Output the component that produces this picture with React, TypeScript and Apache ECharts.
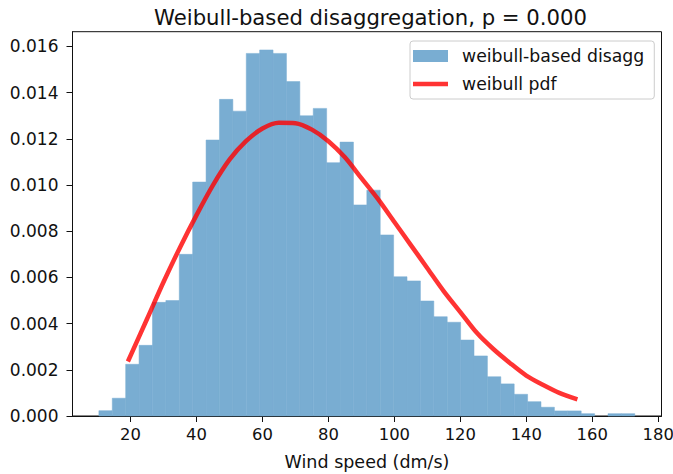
import React, { useEffect, useRef } from "react";
import * as echarts from "echarts";

// Histogram: 40 equal-width bins
const binStart = 10.4;
const binWidth = 4.0625;
const binHeights = [
  0.00023, 0.00077, 0.00224, 0.00306, 0.00492, 0.005, 0.007, 0.01013, 0.01195, 0.01371,
  0.0132, 0.0157, 0.01585, 0.0157, 0.01448, 0.013, 0.01332, 0.01097, 0.01186, 0.00914,
  0.00978, 0.00784, 0.00603, 0.00585, 0.00498, 0.0043, 0.00406, 0.00329, 0.0026, 0.0017,
  0.00139, 0.00094, 0.00062, 0.00038, 0.00022, 0.00022, 0.0001, 0, 0.0001, 0.0001,
];

// Weibull pdf curve
const pdfX = [19.2, 25, 30, 35, 40, 45, 50, 55, 60, 65, 70, 75, 80, 85, 90, 95, 100, 105, 110, 115, 120, 125, 130, 135, 140, 145, 150, 155.5];
const pdfY = [
  0.00236, 0.0042, 0.0058, 0.0073, 0.0087, 0.01, 0.0111, 0.0119, 0.01245, 0.0127,
  0.01268, 0.0124, 0.0119, 0.0112, 0.0103, 0.0094, 0.0084, 0.0074, 0.0064, 0.0054,
  0.0045, 0.0036, 0.0029, 0.0023, 0.00175, 0.00135, 0.001, 0.00072,
];

const xTicks = [20, 40, 60, 80, 100, 120, 140, 160, 180];
const yTicks = [0, 0.002, 0.004, 0.006, 0.008, 0.01, 0.012, 0.014, 0.016];

const FONT = "'DejaVu Sans', sans-serif";

export default function App() {
  const ref = useRef<HTMLDivElement>(null);
  useEffect(() => {
    if (!ref.current) return;
    const chart = echarts.init(ref.current, null, { renderer: "svg" });
    const histData = binHeights.map((h, i) => [binStart + i * binWidth, binStart + (i + 1) * binWidth, h]);
    const lineData = pdfX.map((x, i) => [x, pdfY[i]]);
    chart.setOption({
      animation: false,
      backgroundColor: "#fff",
      textStyle: { fontFamily: FONT },
      title: {
        text: "Weibull-based disaggregation, p = 0.000",
        left: 149,
        top: 2,
        textStyle: { fontFamily: FONT, fontSize: 21.2, fontWeight: "normal", color: "#111" },
      },
      grid: {
        left: 72.5,
        top: 31.7,
        right: 11.5,
        bottom: 58,
        show: true,
        borderColor: "#111",
        borderWidth: 1,
        backgroundColor: "transparent",
        outerBoundsMode: "none",
      },
      legend: {
        orient: "vertical",
        left: 410,
        top: 41,
        padding: [5, 10, 5, 3],
        itemGap: 8,
        itemWidth: 35,
        itemHeight: 12,
        backgroundColor: "rgba(255,255,255,0.8)",
        borderColor: "#cccccc",
        borderWidth: 1,
        borderRadius: 3,
        textStyle: { fontFamily: FONT, fontSize: 17.3, color: "#111", lineHeight: 20, padding: [0, 0, 0, 9] },
        data: [
          { name: "weibull-based disagg", icon: "rect" },
          { name: "weibull pdf", icon: "path://M0,0H35V4.5H0Z" },
        ],
      },
      xAxis: {
        type: "value",
        min: 2.4,
        max: 181,
        name: "Wind speed (dm/s)",
        nameLocation: "middle",
        nameGap: 37,
        nameTextStyle: { fontFamily: FONT, fontSize: 17.5, color: "#111" },
        axisLine: { show: true, lineStyle: { color: "#111", width: 1 } },
        axisTick: { show: true, length: 6, lineStyle: { color: "#111" }, customValues: xTicks },
        axisLabel: { fontFamily: FONT, fontSize: 16.4, color: "#111", margin: 10, customValues: xTicks },
        splitLine: { show: false },
      },
      yAxis: {
        type: "value",
        min: 0,
        max: 0.01664,
        axisLine: { show: true, lineStyle: { color: "#111", width: 1 } },
        axisTick: { show: true, length: 6, lineStyle: { color: "#111" }, customValues: yTicks },
        axisLabel: {
          fontFamily: FONT,
          fontSize: 17,
          color: "#111",
          margin: 14,
          customValues: yTicks,
          formatter: (v: number) => v.toFixed(3),
        },
        splitLine: { show: false },
      },
      series: [
        {
          name: "weibull-based disagg",
          type: "custom",
          itemStyle: { color: "#79add2" },
          encode: { x: [0, 1], y: 2 },
          data: histData,
          renderItem: (params: any, api: any) => {
            const h = api.value(2);
            if (!(h > 0)) return null;
            const p0 = api.coord([api.value(0), 0]);
            const p1 = api.coord([api.value(1), h]);
            return {
              type: "rect",
              shape: { x: p0[0], y: p1[1], width: p1[0] - p0[0], height: p0[1] - p1[1] },
              style: { fill: "#79add2", stroke: "#79add2", lineWidth: 0.5 },
            };
          },
          z: 2,
        },
        {
          name: "weibull pdf",
          type: "line",
          data: lineData,
          smooth: 0.3,
          showSymbol: false,
          symbol: "none",
          lineStyle: { color: "rgba(255,0,0,0.8)", width: 4.5 },
          itemStyle: { color: "rgba(255,0,0,0.8)" },
          z: 3,
        },
      ],
    });
    return () => chart.dispose();
  }, []);
  return (
    <div
      ref={ref}
      style={{ position: "absolute", left: 0, top: 0, width: 673, height: 474 }}
    />
  );
}
